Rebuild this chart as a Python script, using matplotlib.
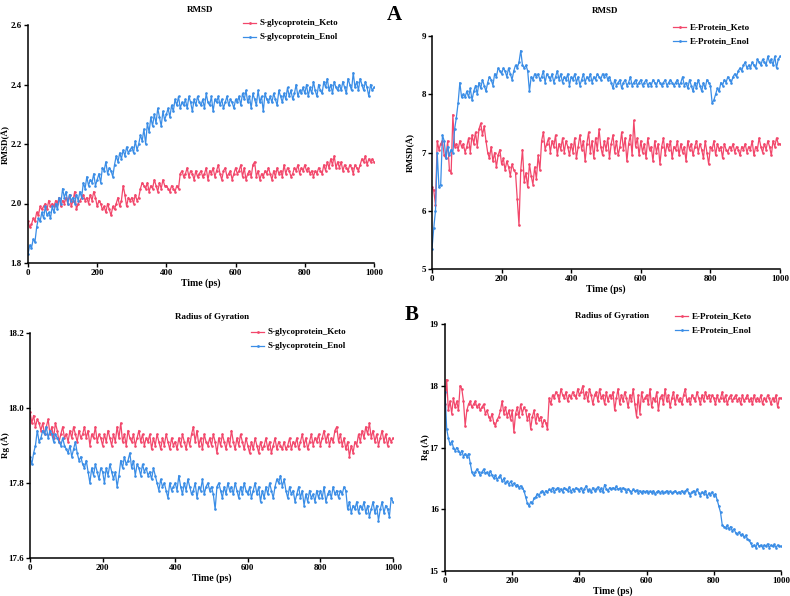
import numpy as np
import matplotlib
matplotlib.use("Agg")
import matplotlib.pyplot as plt

plt.rcParams['font.family'] = ['Liberation Serif', 'DejaVu Serif']
plt.rcParams['font.weight'] = 'bold'

time_ps = list(range(0, 1001, 5))

s_rmsd_keto = [
    1.94, 1.92, 1.93, 1.95, 1.94, 1.97, 1.96, 1.99, 1.98, 1.99, 2.00, 1.98, 2.01, 1.99, 2.00, 1.99, 2.01, 2.00, 2.02, 1.99,
    2.01, 2.00, 2.02, 2.00, 2.03, 1.99, 2.01, 2.04, 1.98, 2.00, 2.01, 2.02, 2.03, 2.01, 2.02, 2.00, 2.03, 2.01, 2.04, 2.02,
    1.99, 2.01, 2.00, 1.98, 1.99, 1.97, 2.00, 1.98, 1.96, 1.99, 1.98, 2.00, 2.02, 1.99, 2.01, 2.06, 2.03, 1.99, 2.02, 2.01,
    2.02, 2.00, 2.03, 2.01, 2.02, 2.05, 2.07, 2.06, 2.05, 2.07, 2.04, 2.06, 2.05, 2.08, 2.06, 2.04, 2.07, 2.05, 2.08, 2.06,
    2.06, 2.05, 2.04, 2.06, 2.05, 2.04, 2.06, 2.05, 2.10, 2.11, 2.09, 2.10, 2.12, 2.09, 2.11, 2.10, 2.08, 2.11, 2.09, 2.10,
    2.11, 2.09, 2.10, 2.12, 2.08, 2.11, 2.10, 2.12, 2.09, 2.11, 2.13, 2.10, 2.08, 2.11, 2.12, 2.09, 2.10, 2.11, 2.08, 2.10,
    2.12, 2.10, 2.11, 2.13, 2.09, 2.12, 2.08, 2.10, 2.11, 2.09, 2.13, 2.14, 2.09, 2.11, 2.08, 2.10, 2.09, 2.11, 2.10, 2.12,
    2.10, 2.08, 2.11, 2.09, 2.12, 2.10, 2.11, 2.09, 2.13, 2.10, 2.12, 2.11, 2.09, 2.10, 2.12, 2.11, 2.13, 2.10, 2.12, 2.11,
    2.13, 2.11, 2.12, 2.10, 2.11, 2.09, 2.11, 2.10, 2.12, 2.11, 2.10, 2.13, 2.11, 2.14, 2.12, 2.15, 2.13, 2.16, 2.12, 2.14,
    2.12, 2.14, 2.11, 2.13, 2.12, 2.11, 2.13, 2.12, 2.10, 2.13, 2.12, 2.11, 2.13, 2.15, 2.14, 2.16, 2.13, 2.15, 2.14, 2.15,
    2.14]

s_rmsd_enol = [
    1.83, 1.86, 1.85, 1.88, 1.87, 1.92, 1.95, 1.94, 1.97, 1.95, 1.99, 1.96, 1.97, 1.95, 1.99, 1.97, 2.00, 1.98, 2.02, 2.00,
    2.05, 2.02, 2.04, 2.00, 2.03, 2.01, 2.02, 2.00, 2.03, 2.01, 2.04, 2.02, 2.07, 2.05, 2.09, 2.06, 2.08, 2.07, 2.10, 2.06,
    2.08, 2.10, 2.07, 2.12, 2.11, 2.14, 2.10, 2.12, 2.11, 2.09, 2.13, 2.16, 2.14, 2.17, 2.15, 2.18, 2.16, 2.19, 2.17, 2.18,
    2.19, 2.17, 2.21, 2.18, 2.20, 2.23, 2.21, 2.25, 2.20, 2.27, 2.24, 2.29, 2.26, 2.30, 2.27, 2.32, 2.29, 2.26, 2.31, 2.28,
    2.30, 2.32, 2.29, 2.33, 2.31, 2.35, 2.33, 2.36, 2.32, 2.34, 2.33, 2.35, 2.32, 2.36, 2.34, 2.31, 2.35, 2.33, 2.36, 2.34,
    2.33, 2.35, 2.32, 2.37, 2.34, 2.33, 2.36, 2.31, 2.35, 2.34, 2.36, 2.33, 2.35, 2.32, 2.34, 2.36, 2.33, 2.35, 2.34, 2.32,
    2.35, 2.34, 2.36, 2.33, 2.37, 2.35, 2.38, 2.34, 2.36, 2.32, 2.37, 2.35, 2.33, 2.38, 2.34, 2.36, 2.31, 2.37, 2.35, 2.34,
    2.36, 2.34, 2.37, 2.35, 2.33, 2.38, 2.36, 2.34, 2.37, 2.35, 2.39, 2.36, 2.38, 2.35, 2.37, 2.40, 2.36, 2.38, 2.37, 2.39,
    2.37, 2.40, 2.36, 2.39, 2.37, 2.41, 2.38, 2.36, 2.40, 2.38, 2.37, 2.41, 2.39, 2.42, 2.38, 2.40, 2.37, 2.41, 2.39, 2.38,
    2.40, 2.38, 2.41, 2.39, 2.37, 2.42, 2.40, 2.38, 2.44, 2.39, 2.41, 2.38, 2.42, 2.40, 2.38, 2.41, 2.39, 2.36, 2.40, 2.38,
    2.39]

e_rmsd_keto = [
    6.40, 6.35, 6.10, 7.20, 7.05, 7.15, 7.20, 6.95, 6.90, 7.20, 6.70, 6.65, 7.65, 7.10, 7.15, 7.05, 7.20, 7.10, 7.15, 7.00,
    7.10, 7.25, 7.00, 7.30, 7.15, 7.35, 7.10, 7.40, 7.50, 7.30, 7.45, 7.20, 7.00, 6.90, 7.10, 6.85, 7.00, 6.75, 6.95, 7.05,
    6.80, 6.90, 6.70, 6.85, 6.75, 6.60, 6.80, 6.70, 6.65, 6.20, 5.75, 6.70, 7.05, 6.50, 6.65, 6.40, 6.80, 6.60, 6.45, 6.75,
    6.55, 6.95, 6.70, 7.20, 7.35, 7.05, 7.15, 7.25, 7.00, 7.20, 7.10, 7.30, 6.95, 7.15, 7.05, 7.25, 7.00, 7.20, 7.10, 6.95,
    7.15, 7.00, 7.25, 6.90, 7.10, 7.30, 7.05, 7.20, 6.85, 7.15, 7.35, 7.00, 7.20, 6.90, 7.25, 7.05, 7.40, 7.10, 6.95, 7.20,
    7.05, 7.25, 6.90, 7.15, 7.30, 7.00, 7.20, 6.95, 7.10, 7.35, 7.05, 7.25, 6.85, 7.15, 7.30, 6.95, 7.55, 7.10, 7.25, 6.95,
    7.20, 7.00, 7.15, 6.90, 7.25, 7.05, 7.10, 6.85, 7.20, 7.00, 7.15, 6.80, 7.10, 7.25, 6.95, 7.15, 7.05, 7.20, 6.90, 7.10,
    7.05, 7.20, 6.95, 7.15, 7.00, 7.10, 6.85, 7.20, 7.05, 7.15, 6.95, 7.10, 7.20, 7.00, 7.15, 7.05, 6.90, 7.20, 7.00, 6.80,
    7.10, 7.05, 7.20, 6.95, 7.15, 7.05, 7.10, 6.90, 7.15, 7.05, 7.00, 7.10, 7.05, 7.15, 7.00, 7.10, 7.05, 6.95, 7.10, 7.05,
    7.15, 7.00, 7.10, 7.05, 7.20, 6.95, 7.10, 7.05, 7.25, 7.10, 7.00, 7.15, 7.05, 7.20, 7.10, 6.95, 7.20, 7.10, 7.25, 7.15,
    7.15]

e_rmsd_enol = [
    5.35, 5.70, 6.00, 7.00, 6.40, 6.45, 7.30, 7.20, 6.90, 7.10, 6.95, 7.05, 7.00, 7.40, 7.60, 7.85, 8.20, 7.95, 8.00, 7.95,
    8.05, 7.95, 8.10, 7.90, 8.05, 8.15, 8.00, 8.20, 8.10, 8.25, 8.15, 8.05, 8.20, 8.30, 8.25, 8.15, 8.35, 8.30, 8.45, 8.40,
    8.35, 8.45, 8.40, 8.30, 8.45, 8.35, 8.25, 8.40, 8.50, 8.45, 8.55, 8.75, 8.50, 8.45, 8.50, 8.40, 8.05, 8.30, 8.25, 8.35,
    8.30, 8.35, 8.25, 8.30, 8.40, 8.20, 8.35, 8.30, 8.25, 8.35, 8.20, 8.30, 8.40, 8.25, 8.35, 8.20, 8.30, 8.25, 8.35, 8.15,
    8.30, 8.25, 8.35, 8.20, 8.30, 8.15, 8.25, 8.35, 8.20, 8.30, 8.25, 8.35, 8.20, 8.30, 8.25, 8.35, 8.30, 8.25, 8.35, 8.30,
    8.35, 8.25, 8.30, 8.20, 8.10, 8.25, 8.15, 8.20, 8.25, 8.10, 8.20, 8.25, 8.15, 8.20, 8.30, 8.15, 8.20, 8.25, 8.15, 8.20,
    8.25, 8.15, 8.20, 8.25, 8.15, 8.20, 8.15, 8.25, 8.20, 8.15, 8.25, 8.20, 8.15, 8.20, 8.25, 8.15, 8.20, 8.25, 8.20, 8.15,
    8.20, 8.25, 8.15, 8.20, 8.30, 8.15, 8.20, 8.10, 8.25, 8.15, 8.05, 8.20, 8.10, 8.25, 8.15, 8.05, 8.20, 8.10, 8.25, 8.20,
    8.15, 7.85, 7.90, 8.00, 8.10, 8.05, 8.20, 8.15, 8.25, 8.20, 8.30, 8.25, 8.20, 8.30, 8.35, 8.30, 8.40, 8.45, 8.40, 8.50,
    8.55, 8.45, 8.50, 8.45, 8.55, 8.50, 8.45, 8.60, 8.55, 8.50, 8.60, 8.55, 8.50, 8.65, 8.55, 8.60, 8.50, 8.65, 8.45, 8.60,
    8.65]

s_rg_keto = [
    17.99, 17.96, 17.98, 17.95, 17.97, 17.96, 17.94, 17.96, 17.93, 17.95, 17.97, 17.93, 17.95, 17.92, 17.96, 17.94, 17.91, 17.93, 17.95, 17.92,
    17.93, 17.91, 17.94, 17.92, 17.95, 17.93, 17.91, 17.94, 17.92, 17.93, 17.95, 17.92, 17.94, 17.90, 17.93, 17.92, 17.95, 17.91, 17.93, 17.92,
    17.90, 17.93, 17.91, 17.94, 17.92, 17.90, 17.93, 17.91, 17.95, 17.92, 17.96, 17.91, 17.93, 17.90, 17.94, 17.92, 17.91, 17.93, 17.90, 17.92,
    17.94, 17.91, 17.93, 17.90, 17.92, 17.91, 17.93, 17.89, 17.92, 17.90, 17.93, 17.91, 17.89, 17.92, 17.90, 17.93, 17.91, 17.89, 17.92, 17.90,
    17.91, 17.89, 17.92, 17.90, 17.93, 17.91, 17.89, 17.92, 17.90, 17.93, 17.95, 17.91, 17.94, 17.90, 17.92, 17.89, 17.93, 17.91, 17.90, 17.92,
    17.90, 17.93, 17.91, 17.88, 17.92, 17.90, 17.93, 17.91, 17.89, 17.92, 17.90, 17.94, 17.91, 17.89, 17.92, 17.90, 17.93, 17.91, 17.89, 17.92,
    17.90, 17.88, 17.91, 17.89, 17.92, 17.90, 17.88, 17.91, 17.89, 17.90, 17.92, 17.89, 17.91, 17.88, 17.90, 17.92, 17.89, 17.91, 17.90, 17.89,
    17.91, 17.89, 17.90, 17.92, 17.89, 17.91, 17.90, 17.92, 17.89, 17.91, 17.93, 17.90, 17.92, 17.89, 17.91, 17.93, 17.90, 17.92, 17.91, 17.93,
    17.90, 17.92, 17.94, 17.91, 17.93, 17.90, 17.92, 17.91, 17.94, 17.95, 17.91, 17.93, 17.90, 17.92, 17.89, 17.91, 17.87, 17.90, 17.88, 17.91,
    17.90, 17.93, 17.91, 17.94, 17.92, 17.95, 17.93, 17.96, 17.92, 17.94, 17.91, 17.93, 17.90, 17.92, 17.94, 17.91, 17.93, 17.90, 17.92, 17.91,
    17.92]

s_rg_enol = [
    17.87, 17.85, 17.88, 17.90, 17.94, 17.91, 17.92, 17.94, 17.93, 17.95, 17.92, 17.94, 17.93, 17.91, 17.93, 17.92, 17.91, 17.90, 17.92, 17.90,
    17.89, 17.88, 17.90, 17.87, 17.89, 17.91, 17.88, 17.86, 17.87, 17.85, 17.84, 17.86, 17.83, 17.80, 17.84, 17.82, 17.85, 17.83, 17.81, 17.84,
    17.83, 17.80, 17.84, 17.82, 17.85, 17.83, 17.81, 17.83, 17.79, 17.82, 17.86, 17.84, 17.87, 17.85, 17.86, 17.88, 17.84, 17.86, 17.82, 17.85,
    17.84, 17.82, 17.85, 17.83, 17.84, 17.82, 17.83, 17.81, 17.84, 17.82, 17.80, 17.78, 17.81, 17.79, 17.80, 17.78, 17.76, 17.80, 17.78, 17.79,
    17.80, 17.78, 17.82, 17.79, 17.77, 17.80, 17.78, 17.81, 17.79, 17.77, 17.78, 17.80, 17.76, 17.79, 17.78, 17.81, 17.77, 17.79, 17.80, 17.78,
    17.79, 17.77, 17.73, 17.79, 17.80, 17.78, 17.76, 17.79, 17.77, 17.80, 17.78, 17.79, 17.77, 17.80, 17.78, 17.76, 17.79, 17.77, 17.80, 17.78,
    17.77, 17.79, 17.76, 17.78, 17.80, 17.77, 17.79, 17.75, 17.78, 17.76, 17.79, 17.77, 17.80, 17.78, 17.76, 17.79, 17.81, 17.80, 17.82, 17.79,
    17.81, 17.78, 17.76, 17.79, 17.77, 17.78, 17.75, 17.77, 17.79, 17.76, 17.78, 17.74, 17.77, 17.75, 17.78, 17.76, 17.77, 17.75, 17.78, 17.76,
    17.78, 17.76, 17.79, 17.75, 17.77, 17.78, 17.76, 17.79, 17.77, 17.78, 17.76, 17.78, 17.77, 17.79, 17.78, 17.73, 17.75, 17.72, 17.74, 17.73,
    17.75, 17.72, 17.74, 17.73, 17.75, 17.72, 17.74, 17.71, 17.73, 17.75, 17.72, 17.74, 17.70, 17.73, 17.75, 17.72, 17.74, 17.73, 17.71, 17.76,
    17.75]

e_rg_keto = [
    17.70, 18.10, 17.60, 17.75, 17.55, 17.80, 17.65, 17.75, 17.60, 18.00, 17.95, 17.75, 17.35, 17.60, 17.70, 17.75, 17.65, 17.70, 17.75, 17.65,
    17.70, 17.60, 17.65, 17.70, 17.55, 17.60, 17.50, 17.45, 17.55, 17.40, 17.35, 17.45, 17.50, 17.60, 17.75, 17.55, 17.65, 17.50, 17.60, 17.45,
    17.60, 17.25, 17.55, 17.65, 17.50, 17.70, 17.55, 17.65, 17.60, 17.45, 17.55, 17.30, 17.50, 17.60, 17.40, 17.55, 17.45, 17.50, 17.35, 17.45,
    17.40, 17.30, 17.80, 17.70, 17.85, 17.80, 17.90, 17.85, 17.75, 17.95, 17.85, 17.80, 17.90, 17.75, 17.85, 17.80, 17.90, 17.85, 17.80, 17.95,
    17.85, 17.90, 18.00, 17.80, 17.90, 17.75, 17.95, 17.85, 17.70, 17.85, 17.90, 17.75, 17.95, 17.80, 17.85, 17.70, 17.90, 17.75, 17.85, 17.80,
    17.90, 17.60, 17.80, 17.95, 17.70, 17.85, 17.75, 17.90, 17.80, 17.65, 17.85, 17.75, 17.95, 17.70, 17.50, 17.85, 17.55, 17.90, 17.75, 17.80,
    17.85, 17.70, 17.95, 17.65, 17.80, 17.75, 17.90, 17.60, 17.80, 17.85, 17.70, 17.95, 17.75, 17.85, 17.65, 17.80, 17.90, 17.70, 17.85, 17.75,
    17.80, 17.70, 17.85, 17.95, 17.75, 17.80, 17.70, 17.85, 17.80, 17.75, 17.90, 17.80, 17.70, 17.85, 17.75, 17.90, 17.80, 17.85, 17.75, 17.85,
    17.80, 17.70, 17.85, 17.75, 17.80, 17.90, 17.75, 17.85, 17.70, 17.80, 17.85, 17.75, 17.80, 17.85, 17.75, 17.80, 17.70, 17.85, 17.75, 17.80,
    17.85, 17.75, 17.80, 17.70, 17.85, 17.75, 17.80, 17.75, 17.85, 17.70, 17.80, 17.75, 17.85, 17.80, 17.70, 17.80, 17.75, 17.85, 17.65, 17.80,
    17.80]

e_rg_enol = [
    17.90, 17.30, 17.15, 17.05, 17.10, 17.00, 16.95, 17.00, 16.95, 16.90, 16.95, 16.85, 16.90, 16.85, 16.90, 16.75, 16.60, 16.55, 16.60, 16.65,
    16.60, 16.55, 16.60, 16.65, 16.58, 16.60, 16.55, 16.62, 16.55, 16.50, 16.55, 16.48, 16.52, 16.55, 16.45, 16.50, 16.42, 16.45, 16.40, 16.45,
    16.40, 16.42, 16.38, 16.40, 16.35, 16.38, 16.35, 16.30, 16.20, 16.10, 16.05, 16.12, 16.10, 16.18, 16.20, 16.25, 16.22, 16.28, 16.30, 16.25,
    16.30, 16.28, 16.32, 16.30, 16.35, 16.28, 16.32, 16.35, 16.30, 16.33, 16.28, 16.35, 16.32, 16.30, 16.36, 16.28, 16.33, 16.30, 16.35, 16.32,
    16.30, 16.35, 16.28, 16.33, 16.38, 16.30, 16.32, 16.28, 16.35, 16.30, 16.33, 16.36, 16.30, 16.34, 16.28, 16.40, 16.33, 16.30, 16.35, 16.32,
    16.35, 16.33, 16.37, 16.32, 16.34, 16.30, 16.35, 16.32, 16.28, 16.33, 16.30, 16.27, 16.32, 16.29, 16.31, 16.27, 16.30, 16.26, 16.30, 16.28,
    16.30, 16.26, 16.29, 16.27, 16.30, 16.25, 16.28, 16.30, 16.27, 16.29, 16.26, 16.28, 16.30, 16.27, 16.29, 16.26, 16.28, 16.30, 16.26, 16.28,
    16.27, 16.30, 16.26, 16.29, 16.32, 16.27, 16.22, 16.28, 16.30, 16.25, 16.32, 16.27, 16.22, 16.28, 16.25, 16.30, 16.20, 16.26, 16.23, 16.28,
    16.22, 16.25, 16.15, 16.05, 15.95, 15.75, 15.72, 15.70, 15.74, 15.68, 15.72, 15.65, 15.68, 15.62, 15.60, 15.63, 15.58, 15.60, 15.55, 15.58,
    15.52, 15.50, 15.45, 15.40, 15.42, 15.38, 15.45, 15.40, 15.42, 15.38, 15.42, 15.40, 15.44, 15.38, 15.42, 15.40, 15.43, 15.38, 15.42, 15.40,
    15.40]

x_ticks = [0, 200, 400, 600, 800, 1000]
panels = [
    dict(rect=(28, 25, 374, 263), title="RMSD", title_xy=(200, 10), ylabel="RMSD(Å)", ylab_x=10,
         keto=s_rmsd_keto, enol=s_rmsd_enol, names=("S-glycoprotein_Keto", "S-glycoprotein_Enol"),
         ylim=(1.8, 2.6), yticks=[1.8, 2.0, 2.2, 2.4, 2.6], yfmt="%.1f", leg=(243, 23)),
    dict(rect=(432, 36, 780, 269), title="RMSD", title_xy=(605, 11), ylabel="RMSD(Å)", ylab_x=415,
         keto=e_rmsd_keto, enol=e_rmsd_enol, names=("E-Protein_Keto", "E-Protein_Enol"),
         ylim=(5, 9), yticks=[5, 6, 7, 8, 9], yfmt="%d", leg=(673, 27)),
    dict(rect=(30, 333, 393, 558), title="Radius of Gyration", title_xy=(212, 317), ylabel="Rg (Å)", ylab_x=10,
         keto=s_rg_keto, enol=s_rg_enol, names=("S-glycoprotein_Keto", "S-glycoprotein_Enol"),
         ylim=(17.6, 18.2), yticks=[17.6, 17.8, 18.0, 18.2], yfmt="%.1f", leg=(251, 332)),
    dict(rect=(445, 324, 781, 571), title="Radius of Gyration", title_xy=(612, 316), ylabel="Rg (Å)", ylab_x=430,
         keto=e_rg_keto, enol=e_rg_enol, names=("E-Protein_Keto", "E-Protein_Enol"),
         ylim=(15, 19), yticks=[15, 16, 17, 18, 19], yfmt="%d", leg=(675, 316)),
]

W, H = 790, 596
fig = plt.figure(figsize=(W / 100, H / 100), dpi=100)
red = '#F2476B'
blue = '#3A8DE6'
fs = 6.5

for p in panels:
    x0, y0, x1, y1 = p["rect"]
    ax = fig.add_axes([x0 / W, 1 - y1 / H, (x1 - x0) / W, (y1 - y0) / H])
    ax.plot(time_ps, p["keto"], color=red, lw=0.9, marker='o', ms=1.9, mew=0)
    ax.plot(time_ps, p["enol"], color=blue, lw=0.9, marker='o', ms=1.9, mew=0)
    ax.set_xlim(0, 1000)
    ax.set_ylim(*p["ylim"])
    ax.set_xticks(x_ticks)
    ax.set_yticks(p["yticks"])
    ax.set_yticklabels([p["yfmt"] % v for v in p["yticks"]])
    for s in ("top", "right"):
        ax.spines[s].set_visible(False)
    for s in ("left", "bottom"):
        ax.spines[s].set_linewidth(1.1)
    ax.tick_params(axis='both', labelsize=fs, width=1.0, length=3, pad=1.5)
    for lab in ax.get_xticklabels() + ax.get_yticklabels():
        lab.set_fontweight('bold')
    ax.set_xlabel("Time (ps)", fontsize=fs + 0.5, fontweight='bold', labelpad=1)
    ax.set_ylabel(p["ylabel"], fontsize=fs, fontweight='bold')
    ax.yaxis.set_label_coords((p["ylab_x"] - x0) / (x1 - x0), 0.5)
    tx, ty = p["title_xy"]
    fig.text(tx / W, 1 - ty / H, p["title"], ha='center', va='center', fontsize=fs, fontweight='bold')
    lx, ly = p["leg"]
    for i, (name, col) in enumerate(zip(p["names"], (red, blue))):
        yy = 1 - (ly + i * 14) / H
        fig.lines.append(plt.Line2D([lx / W, (lx + 13) / W], [yy, yy], transform=fig.transFigure,
                                    color=col, lw=0.9))
        fig.lines.append(plt.Line2D([(lx + 6.5) / W], [yy], transform=fig.transFigure,
                                    color=col, marker='o', ms=2.0, mew=0))
        fig.text((lx + 17) / W, yy, name, ha='left', va='center', fontsize=fs, fontweight='bold')

fig.text(394 / W, 1 - 15 / H, "A", ha='center', va='center', fontsize=15, fontweight='bold')
fig.text(412 / W, 1 - 315 / H, "B", ha='center', va='center', fontsize=15, fontweight='bold')

fig.savefig("out.png", dpi=100)
